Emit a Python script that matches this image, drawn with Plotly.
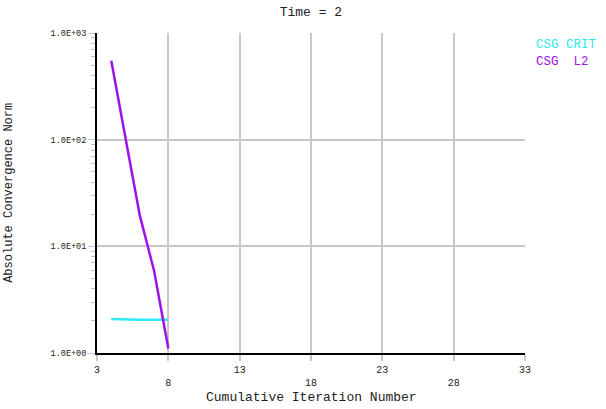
import plotly.graph_objects as go

# Data
iterations = [4, 5, 6, 7, 8]
csg_l2 = [550, 100, 19.5, 5.9, 1.1]
csg_crit = [2.08, 2.05, 2.05, 2.05, 2.05]

x_tickvals = [3, 8, 13, 18, 23, 28, 33]
x_ticktext = ["3", "<br>8", "13", "<br>18", "23", "<br>28", "33"]
y_tickvals = [1, 10, 100, 1000]
y_ticktext = ["1.0E+00", "1.0E+01", "1.0E+02", "1.0E+03"]
y_minor = [m * 10 ** e for e in range(3) for m in range(2, 10)]

CYAN = "#2EEAF0"
PURPLE = "#A010E8"
TEXT = "#222222"
GRID = "#C8C8C8"
FONT = "Liberation Mono, Courier New, monospace"

fig = go.Figure()
fig.add_trace(go.Scatter(x=iterations, y=csg_crit, mode="lines",
                         line=dict(color=CYAN, width=2.5), name="CSG CRIT"))
fig.add_trace(go.Scatter(x=iterations, y=csg_l2, mode="lines",
                         line=dict(color=PURPLE, width=2.5), name="CSG  L2"))

fig.update_layout(
    width=606, height=409,
    margin=dict(l=97, r=81, t=33, b=56),
    paper_bgcolor="white", plot_bgcolor="white",
    showlegend=False,
    font=dict(family=FONT, size=11, color=TEXT),
    title=dict(text="Time = 2", x=0.513, xanchor="center", y=0.971, yanchor="middle",
               font=dict(family=FONT, size=13, color=TEXT)),
)
fig.update_xaxes(
    range=[3, 33], tickmode="array", tickvals=x_tickvals, ticktext=x_ticktext,
    showgrid=True, gridcolor=GRID, gridwidth=1.5,
    showline=True, linecolor="black", linewidth=2,
    ticks="outside", ticklen=6, tickcolor=GRID, tickwidth=1.5,
    zeroline=False, automargin=False,
    tickfont=dict(family=FONT, size=10, color=TEXT),
)
fig.update_yaxes(
    type="log", range=[0, 3], tickmode="array", tickvals=y_tickvals, ticktext=y_ticktext,
    showgrid=True, gridcolor=GRID, gridwidth=1.5,
    showline=True, linecolor="black", linewidth=2,
    ticks="outside", ticklen=7, tickcolor=GRID, tickwidth=1,
    minor=dict(tickvals=y_minor, ticks="outside", ticklen=4, tickcolor="#C0C0C0", showgrid=False),
    automargin=False,
    tickfont=dict(family=FONT, size=8.5, color=TEXT),
)

# Axis titles
fig.add_annotation(x=0.5, y=-0.14, xref="paper", yref="paper", xanchor="center", yanchor="middle",
                   text="Cumulative Iteration Number", showarrow=False,
                   font=dict(family=FONT, size=13, color=TEXT))
fig.add_annotation(x=-0.206, y=0.5, xref="paper", yref="paper", xanchor="center", yanchor="middle",
                   text="Absolute Convergence Norm", textangle=-90, showarrow=False,
                   font=dict(family=FONT, size=12, color=TEXT))

# Right-side labels (series names)
fig.add_annotation(x=1.021, y=0.9625, xref="paper", yref="paper", xanchor="left", yanchor="middle",
                   text="CSG CRIT", showarrow=False, font=dict(family=FONT, size=12.5, color=CYAN))
fig.add_annotation(x=1.021, y=0.908, xref="paper", yref="paper", xanchor="left", yanchor="middle",
                   text="CSG  L2", showarrow=False, font=dict(family=FONT, size=12.5, color=PURPLE))

fig.write_html("out.html", config={"displayModeBar": False},
               post_script="document.body.style.margin='0';document.body.style.overflow='hidden';")
